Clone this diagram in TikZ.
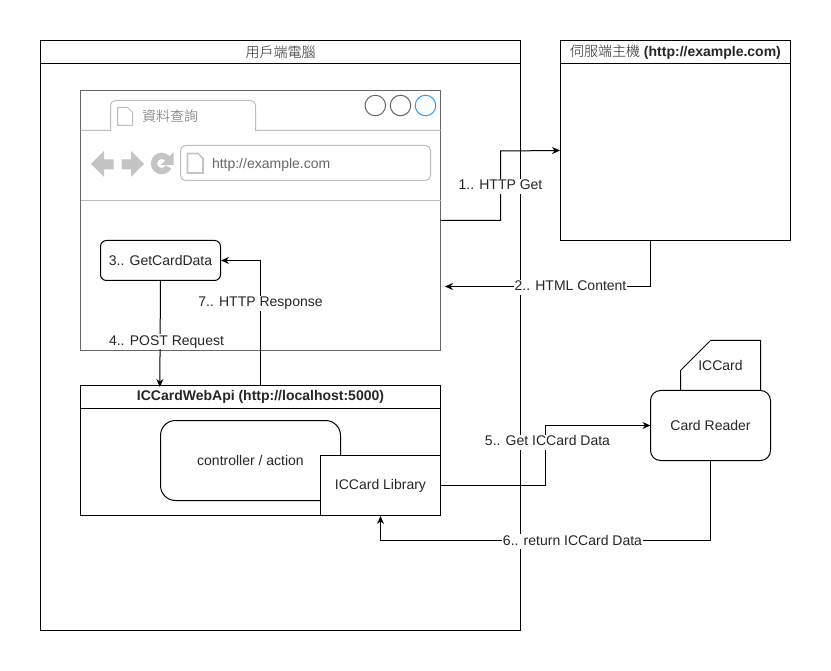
\documentclass[tikz,border=0pt]{standalone}
\usepackage{fontspec}
\setmainfont{Liberation Sans}
\newfontfamily\cjk{Noto Sans CJK TC Light}
\usetikzlibrary{arrows.meta,calc}
\definecolor{chrome}{HTML}{C4C4C4}
\definecolor{framegrey}{HTML}{666666}
\definecolor{linegrey}{HTML}{BDBDBD}
\definecolor{winblue}{HTML}{2E9BFF}
\tikzset{
  every node/.style={font=\fontsize{14}{16}\selectfont,text=black!85,outer sep=0pt},
  box/.style={draw=black,fill=white,inner sep=0pt,anchor=north west},
  title/.style={inner sep=0pt,anchor=center},
  rbox/.style={box,rounded corners=#1},
  rbox/.default=10pt,
  flow/.style={draw=black,-{Stealth[length=8pt,width=7pt]}},
  lbl/.style={fill=white,inner sep=1pt,text height=10pt,text depth=3pt},
  winbtn/.style={circle,draw=framegrey,fill=white,inner sep=0pt,minimum size=20.5pt},
  icon/.style={draw=linegrey,fill=white},
  arrowicon/.style={fill=chrome,draw=none},
}
\begin{document}
\begin{tikzpicture}[x=1pt,y=-1pt,line width=1pt]
\useasboundingbox (0,0) rectangle (831,671);
\fill[white] (0,0) rectangle (831,671);

% outer computer
\node[box,minimum width=480pt,minimum height=590pt] (pc) at (40.5,40.5) {};
\coordinate (pcsplitL) at (40.5,63.5);
\coordinate (pcsplitR) at (520.5,63.5);
\draw (pcsplitL) -- (pcsplitR);
\node[title] (pctitle) at (280.5,52) {\cjk 用戶端電腦};

% server
\node[box,minimum width=230pt,minimum height=200pt] (server) at (560.5,40.5) {};
\coordinate (srvL) at (560.5,63.5);
\coordinate (srvR) at (790.5,63.5);
\draw (srvL) -- (srvR);
\node[title] (srvtitle) at (675.5,52) {{\cjk 伺服端主機} \textbf{(http://example.com)}};

% browser
\node[box,draw=framegrey,minimum width=360pt,minimum height=260pt] (browser) at (80.5,90.5) {};
\draw[linegrey] (80.5,130.5) -- (110.5,130.5)
  {[rounded corners=5pt] -- (110.5,100.5) -- (255.5,100.5)} -- (255.5,130.5) -- (440.5,130.5);
\draw[linegrey] (80.5,200.5) -- (440.5,200.5);
\draw[icon] (117.5,107.5) -- (127.5,107.5) -- (132.5,112.5) -- (132.5,125.5) -- (117.5,125.5) -- cycle;
\node[title,text=framegrey,font=\fontsize{14}{16}\selectfont\cjk] (tabtext) at (170,116) {資料查詢};
\node[winbtn] (b1) at (375.3,105.5) {};
\node[winbtn] (b2) at (400.5,105.5) {};
\node[winbtn,draw=winblue] (b3) at (425.5,105.5) {};
\draw[linegrey,rounded corners=5pt] (180.5,145.5) rectangle (430.5,180.5);
\draw[draw=chrome,line width=1.6pt,fill=white] (187.5,153.5) -- (198,153.5) -- (203,158.5) -- (203,173) -- (187.5,173) -- cycle;
\node[anchor=west,inner sep=0pt,text=framegrey,font=\fontsize{14}{16}\selectfont] (url) at (212,165) {http://example.com};
\fill[arrowicon] (91,164) -- (104,151) -- (104,159.3) -- (113.5,159.3) -- (113.5,169.3) -- (104,169.3) -- (104,177) -- cycle;
\fill[arrowicon] (144,164) -- (131,151) -- (131,159.3) -- (121.5,159.3) -- (121.5,169.3) -- (131,169.3) -- (131,177) -- cycle;
\fill[arrowicon,even odd rule] (161.7,163.5) circle[radius=10.8] (161.7,163.5) circle[radius=4.6];
\fill[white] (161.7,163.5) -- (175,156) -- (175,170) -- cycle;
\fill[arrowicon] (173.5,152.5) -- (173.5,165) -- (161,165) -- cycle;

% GetCardData
\node[rbox=6pt,minimum width=120pt,minimum height=40pt] (gcd) at (100.5,240.5) {3.. GetCardData};

% API
\node[box,minimum width=360pt,minimum height=130pt] (api) at (80.5,385.5) {};
\coordinate (apiL) at (80.5,408.5);
\coordinate (apiR) at (440.5,408.5);
\draw (apiL) -- (apiR);
\node[title] (apititle) at (260.5,397) {\textbf{ICCardWebApi (http://localhost:5000)}};
\node[rbox=15pt,minimum width=180pt,minimum height=80pt] (ctrl) at (160.5,420.5) {};
\node[title] (ctrltext) at (250.5,460) {controller / action};
\node[box,minimum width=120pt,minimum height=60pt] (lib) at (320.5,455.5) {ICCard Library};

% card
\draw[fill=white] (680.5,390.5) -- (680.5,370.5) -- (710.5,340.5) -- (760.5,340.5) -- (760.5,390.5);
\node[title] (cardtext) at (720.5,365.5) {ICCard};
\node[rbox=10pt,minimum width=120pt,minimum height=70pt] (reader) at (650.5,390.5) {Card Reader};

% connectors
\coordinate (c1a) at (440.5,220.5);
\coordinate (c1b) at (560,150.5);
\draw[flow] (c1a) -- (500.5,220.5) -- (500.5,151) -- (c1b);
\node[lbl] (l1) at (500.5,186.5) {1.. HTTP Get};

\coordinate (c2a) at (650.5,240.5);
\coordinate (c2b) at (445,286.5);
\draw[flow] (c2a) -- (650.5,286.5) -- (c2b);
\node[lbl] (l2) at (570.5,287.5) {2.. HTML Content};

\coordinate (c4a) at (160.5,280.5);
\coordinate (c4b) at (159.8,387);
\draw[flow] (c4a) -- (c4b);
\node[lbl] (l4) at (166.5,341.5) {4.. POST Request};

\coordinate (c7a) at (260.5,385.5);
\coordinate (c7b) at (221,260.5);
\draw[flow] (c7a) -- (260.5,260.5) -- (c7b);
\node[lbl] (l7) at (260.5,303.5) {7.. HTTP Response};

\coordinate (c5a) at (440.5,485.5);
\coordinate (c5b) at (650.5,425.5);
\draw[flow] (c5a) -- (545.5,485.5) -- (545.5,425.5) -- (c5b);
\node[lbl] (l5) at (547.5,442.5) {5.. Get ICCard Data};

\coordinate (c6a) at (710.5,460.5);
\coordinate (c6b) at (380.5,516);
\draw[flow] (c6a) -- (710.5,540.5) -- (380.5,540.5) -- (c6b);
\node[lbl] (l6) at (572.5,541.5) {6.. return ICCard Data};
\end{tikzpicture}
\end{document}
